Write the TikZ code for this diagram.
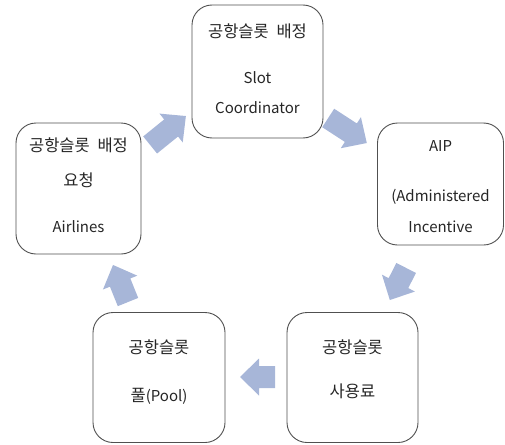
\documentclass[tikz,border=0pt]{standalone}
\usepackage{fontspec}
\setmainfont{Noto Sans CJK KR}
\definecolor{arrowfill}{RGB}{167,182,216}
\definecolor{boxline}{RGB}{80,80,80}
\definecolor{txt}{RGB}{38,38,38}
\tikzset{
  box/.style={draw=boxline, line width=0.9pt, rounded corners=20pt, fill=white, inner sep=0pt},
  lbl/.style={text=txt, inner sep=0pt, font=\fontsize{15}{18}\selectfont},
  kor/.style={text=txt, inner sep=0pt, font=\fontsize{16.5}{20}\selectfont},
  pics/blockarrow/.style={code={
    \fill[arrowfill] (-#1/2,-11) -- (#1/2-19,-11) -- (#1/2-19,-18.5) -- (#1/2,0)
      -- (#1/2-19,18.5) -- (#1/2-19,11) -- (-#1/2,11) -- cycle;
  }}
}
\begin{document}
\begin{tikzpicture}[x=1pt,y=-1pt]
\useasboundingbox (0,0) rectangle (505,444);
% boxes
\node[box, minimum width=131pt, minimum height=133pt] (sc) at (257.5,71.5) {};
\node[box, minimum width=126pt, minimum height=122pt] (aip) at (440.5,184) {};
\node[box, minimum width=125pt, minimum height=131pt] (air) at (78.5,188.5) {};
\node[box, minimum width=132pt, minimum height=130pt] (pool) at (159,377.5) {};
\node[box, minimum width=131pt, minimum height=130pt] (fee) at (352.5,377.5) {};
% texts
\node[kor] (sc1) at (257.5,31) {공항슬롯\hspace{4pt} 배정};
\node[lbl] (sc2) at (257.5,78) {Slot};
\node[lbl] (sc3) at (257.5,108) {Coordinator};
\node[lbl] (aip1) at (440.5,146) {AIP};
\node[lbl] (aip2) at (440.5,197) {(Administered};
\node[lbl] (aip3) at (440.5,227) {Incentive};
\node[kor] (air1) at (78.5,145) {공항슬롯\hspace{4pt} 배정};
\node[kor] (air2) at (78.5,180) {요청};
\node[lbl] (air3) at (78.5,227) {Airlines};
\node[kor] (pool1) at (159,347) {공항슬롯};
\node[kor] (pool2) at (159,396) {풀\fontsize{15}{18}\selectfont(Pool)};
\node[kor] (fee1) at (352.5,347) {공항슬롯};
\node[kor] (fee2) at (352.5,391) {사용료};
% block arrows
\pic[rotate=39] (a1) at (168,130.5) {blockarrow=46};
\pic[rotate=-33] (a2) at (347.5,130.5) {blockarrow=46};
\pic[rotate=-117] (a3) at (398,284) {blockarrow=36};
\pic[rotate=180] (a4) at (257.5,377) {blockarrow=35};
\pic[rotate=112] (a5) at (120.5,283.5) {blockarrow=40};
\end{tikzpicture}
\end{document}
